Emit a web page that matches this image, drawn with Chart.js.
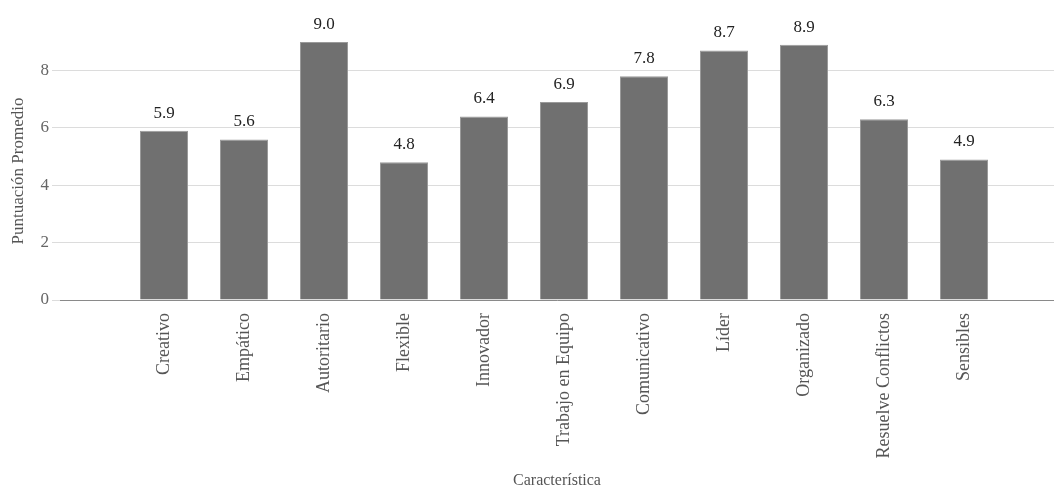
<!DOCTYPE html>
<html>
<head>
<meta charset="utf-8">
<script src="https://cdn.jsdelivr.net/npm/chart.js@4/dist/chart.umd.min.js"></script>
<style>
html,body{margin:0;padding:0;background:#fff;}
#wrap{width:1054px;height:491px;position:relative;}
</style>
</head>
<body>
<div id="wrap"><canvas id="c" width="1054" height="491"></canvas></div>
<script>
const categories = ["Creativo","Empático","Autoritario","Flexible","Innovador","Trabajo en Equipo","Comunicativo","Líder","Organizado","Resuelve Conflictos","Sensibles"];
const values = [5.9, 5.6, 9.0, 4.8, 6.4, 6.9, 7.8, 8.7, 8.9, 6.3, 4.9];
const yTicks = [0, 2, 4, 6, 8];
const yTitle = "Puntuación Promedio";
const xTitle = "Característica";

const FONT = "'Liberation Serif', 'Times New Roman', serif";

const valueLabels = {
  id: 'valueLabels',
  afterDatasetsDraw(chart) {
    const ctx = chart.ctx;
    const meta = chart.getDatasetMeta(0);
    ctx.save();
    ctx.font = "17px " + FONT;
    ctx.fillStyle = "#222";
    ctx.textAlign = "center";
    ctx.textBaseline = "bottom";
    meta.data.forEach((bar, i) => {
      ctx.fillText(values[i].toFixed(1), bar.x, bar.y - 9);
    });
    ctx.restore();
  }
};

const yTitlePlugin = {
  id: 'yTitlePlugin',
  afterDraw(chart) {
    const ctx = chart.ctx;
    ctx.save();
    ctx.font = "17px " + FONT;
    ctx.fillStyle = "#555";
    ctx.textAlign = "center";
    ctx.textBaseline = "middle";
    ctx.translate(19, 171);
    ctx.rotate(-Math.PI / 2);
    ctx.fillText(yTitle, 0, 0);
    ctx.restore();
  }
};

new Chart(document.getElementById('c'), {
  type: 'bar',
  data: {
    datasets: [{
      data: values.map((v, i) => ({x: i, y: v})),
      backgroundColor: '#707070',
      borderColor: '#9a9a9a',
      borderWidth: 1,
      categoryPercentage: 1,
      barPercentage: 0.6
    }]
  },
  options: {
    responsive: false,
    animation: false,
    layout: {padding: {top: 12, right: 0, bottom: 0, left: 0}},
    plugins: {legend: {display: false}, tooltip: {enabled: false}},
    scales: {
      x: {
        type: 'linear',
        offset: false,
        min: -1.3,
        max: 11.125,
        afterBuildTicks(scale) { scale.ticks = categories.map((c, i) => ({value: i})); },
        afterFit(scale) { scale.height = 191; },
        grid: {display: false, drawTicks: false},
        border: {display: true, color: '#8a8a8a', width: 1},
        ticks: {
          autoSkip: false,
          minRotation: 90,
          maxRotation: 90,
          padding: 13,
          color: '#555',
          font: {family: FONT, size: 18},
          callback: (v) => categories[Math.round(v)]
        },
        title: {display: true, text: xTitle, color: '#555', font: {family: FONT, size: 16}, padding: {top: 0, bottom: 1}}
      },
      y: {
        min: 0,
        max: 10,
        afterBuildTicks(scale) { scale.ticks = yTicks.map(v => ({value: v})); },
        afterFit(scale) { scale.width = 60; },
        grid: {color: '#dcdcdc', lineWidth: 1, tickLength: 8},
        border: {display: false},
        ticks: {color: '#666', padding: 3, font: {family: FONT, size: 17}},
        title: {display: false}
      }
    }
  },
  plugins: [valueLabels, yTitlePlugin]
});
</script>
</body>
</html>
